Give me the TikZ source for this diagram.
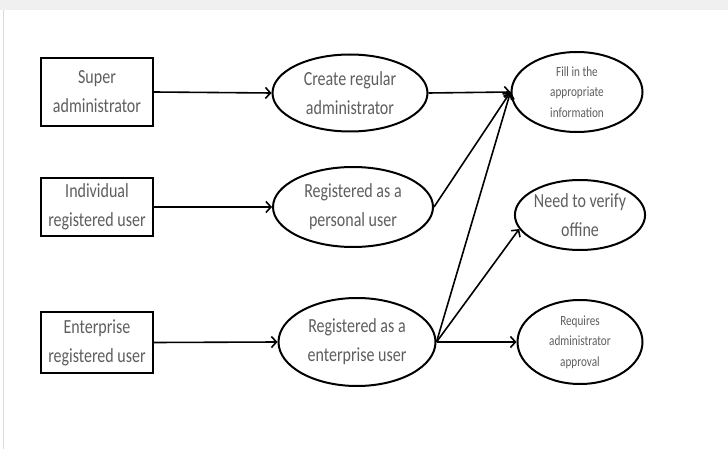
\documentclass[tikz,border=0pt]{standalone}
\usepackage{fontspec}
\setmainfont[FakeStretch=0.8]{Carlito}
\usetikzlibrary{arrows.meta,shapes.geometric}
\definecolor{txt}{rgb}{0.37,0.37,0.37}
\begin{document}
\begin{tikzpicture}[x=1pt,y=-1pt,
  actor/.style={draw=black, line width=2pt, rectangle, minimum width=112pt, inner sep=0pt, align=center, text=txt, font=\fontsize{20}{29}\selectfont},
  usecase/.style={draw=black, line width=2pt, ellipse, inner sep=0pt, align=center, text=txt},
  bigtxt/.style={font=\fontsize{20}{29}\selectfont},
  smalltxt/.style={font=\fontsize{14}{20.5}\selectfont},
  arr/.style={line width=1.6pt, -{Straight Barb[length=5pt,width=11pt,line width=1.6pt]}}
]
\useasboundingbox (0,0) rectangle (728,449);
\fill[white] (0,0) rectangle (728,449);
\fill[black!6] (0,0) rectangle (728,10);
\draw[black!15, line width=1pt] (3.5,10) -- (3.5,449);

% actors
\node[actor, minimum height=68pt] (sa) at (97,92) {Super\\administrator};
\node[actor, minimum height=58pt] (iu) at (97,207) {Individual\\registered user};
\node[actor, minimum height=61pt] (eu) at (97,342.5) {Enterprise\\registered user};

% use cases
\node[usecase, bigtxt, minimum width=155pt, minimum height=77pt] (cra) at (350,93) {Create regular\\administrator};
\node[usecase, bigtxt, minimum width=160pt, minimum height=80pt] (rpu) at (353,207) {Registered as a\\personal user};
\node[usecase, bigtxt, minimum width=157pt, minimum height=88pt] (reu) at (357,342) {Registered as a\\enterprise user};
\node[usecase, smalltxt, minimum width=131pt, minimum height=80pt] (fill) at (577,92) {Fill in the\\appropriate\\information};
\node[usecase, bigtxt, minimum width=125pt, minimum height=70pt] (ver) at (580,215) {Need to verify\\offine};
\node[usecase, smalltxt, minimum width=125pt, minimum height=84pt] (req) at (580,342) {Requires\\administrator\\approval};

% connectors
\draw[arr] (sa.east) -- (cra.west);
\draw[arr] (iu.east) -- (rpu.west);
\draw[arr] (eu.east) -- (reu.west);
\draw[arr] (cra.east) -- (fill.west);
\draw[arr] (rpu.east) -- (fill.west);
\draw[arr] (reu.east) -- (fill.west);
\draw[arr] (reu.east) -- (ver.193);
\draw[arr] (reu.east) -- (req.west);
\end{tikzpicture}
\end{document}
